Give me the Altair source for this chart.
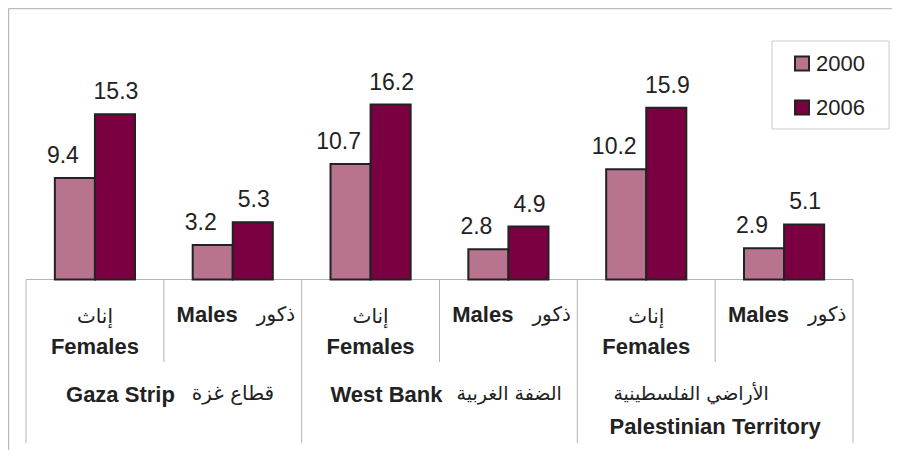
import altair as alt
import pandas as pd

cats = ["GF", "GM", "WF", "WM", "PF", "PM"]
years = ["2000", "2006"]
v2000 = [9.4, 3.2, 10.7, 2.8, 10.2, 2.9]
v2006 = [15.3, 5.3, 16.2, 4.9, 15.9, 5.1]
female_cats = ["GF", "WF", "PF"]
male_cats = ["GM", "WM", "PM"]
female_ar = "إناث"
female_en = "Females"
male_en = "Males"
male_ar = "ذكور"
region_cats = ["GF", "WF"]
region_en = ["Gaza Strip", "West Bank"]
region_ar = ["قطاع غزة", "الضفة الغربية"]
pal_ar = "الأراضي الفلسطينية"
pal_en = "Palestinian Territory"

rows = []
for i, c in enumerate(cats):
    rows.append({"cat": c, "year": "2000", "value": v2000[i]})
    rows.append({"cat": c, "year": "2006", "value": v2006[i]})
df = pd.DataFrame(rows)

W, H = 827, 216
FONT = "Liberation Sans, DejaVu Sans"
AFONT = "DejaVu Sans"
LINE = "#b4b4b4"
xscale = alt.Scale(domain=cats, paddingInner=0, paddingOuter=0)
yscale = alt.Scale(domain=[0, 20])
offscale = alt.Scale(domain=years, paddingInner=0, paddingOuter=0.72)
color = alt.Color(
    "year:N",
    scale=alt.Scale(domain=years, range=["#B8748F", "#7B0042"]),
    legend=alt.Legend(
        title=None, orient="none", legendX=765, legendY=-11,
        symbolType="square", symbolSize=196, symbolStrokeColor="#222",
        symbolStrokeWidth=2, labelFontSize=22, labelFont=FONT,
        labelColor="#222", rowPadding=22, labelOffset=3, padding=0,
    ),
)

one = pd.DataFrame({"k": [0]})

frame_top = alt.Chart(one).mark_rule(color="#bbbbbb", strokeWidth=1.5).encode(
    x=alt.value(-17.5), x2=alt.value(866), y=alt.value(-55)
)
frame_left = alt.Chart(one).mark_rule(color="#bbbbbb", strokeWidth=1.5).encode(
    x=alt.value(-17.5), y=alt.value(-55), y2=alt.value(390)
)
legend_box = alt.Chart(one).mark_rect(fill=None, stroke="#cccccc", strokeWidth=1).encode(
    x=alt.value(746), x2=alt.value(863), y=alt.value(-22.5), y2=alt.value(65.5)
)

bars = alt.Chart(df).mark_bar(stroke="#222222", strokeWidth=2).encode(
    x=alt.X("cat:N", scale=xscale, axis=None, sort=cats),
    xOffset=alt.XOffset("year:N", scale=offscale),
    y=alt.Y("value:Q", scale=yscale, axis=None),
    color=color,
)


def value_labels(year, dx):
    return alt.Chart(df).transform_filter(alt.datum.year == year).mark_text(
        font=FONT, fontSize=23, color="#222", baseline="alphabetic", dy=-15, dx=dx
    ).encode(
        x=alt.X("cat:N", scale=xscale, axis=None, sort=cats),
        xOffset=alt.XOffset("year:N", scale=offscale),
        y=alt.Y("value:Q", scale=yscale, axis=None),
        text=alt.Text("value:Q", format=".1f"),
    )


labels = alt.layer(value_labels("2000", -12), value_labels("2006", 1))

baseline = alt.Chart(one).mark_rule(color=LINE, strokeWidth=1).encode(
    x=alt.value(0), x2=alt.value(W), y=alt.value(H)
)
short_div = alt.Chart(pd.DataFrame({"cat": male_cats})).mark_rule(color=LINE).encode(
    x=alt.X("cat:N", scale=xscale, axis=None, bandPosition=0),
    y=alt.value(H), y2=alt.value(298.5),
)
long_div = alt.Chart(pd.DataFrame({"cat": female_cats})).mark_rule(color=LINE).encode(
    x=alt.X("cat:N", scale=xscale, axis=None, bandPosition=0),
    y=alt.value(H), y2=alt.value(379.5),
)
end_div = alt.Chart(pd.DataFrame({"cat": ["PM"]})).mark_rule(color=LINE).encode(
    x=alt.X("cat:N", scale=xscale, axis=None, bandPosition=1),
    y=alt.value(H), y2=alt.value(379.5),
)


def cat_text(cats_list, texts, ypix, band=0.5, align="center", dx=0,
             bold=True, size=22, font=FONT):
    data = pd.DataFrame({"cat": cats_list, "t": texts})
    return alt.Chart(data).mark_text(
        font=font, fontSize=size, fontWeight="bold" if bold else "normal",
        color="#222", baseline="middle", align=align, dx=dx,
    ).encode(
        x=alt.X("cat:N", scale=xscale, axis=None, bandPosition=band),
        y=alt.value(ypix),
        text=alt.Text("t:N"),
    )


fem_ar_t = cat_text(female_cats, [female_ar] * 3, 253.5, bold=False, size=20, font=AFONT)
fem_en_t = cat_text(female_cats, [female_en] * 3, 283.5)
male_en_t = cat_text(male_cats, [male_en] * 3, 251.5, align="right", dx=5)
male_ar_t = cat_text(male_cats, [male_ar] * 3, 251.5, align="left", dx=24,
                     bold=False, size=20, font=AFONT)
reg_en_t = alt.layer(
    cat_text(region_cats[:1], region_en[:1], 331.5, band=1, align="right", dx=11),
    cat_text(region_cats[1:], region_en[1:], 331.5, band=1, align="right", dx=3),
)
reg_ar_t = alt.layer(
    cat_text(region_cats[:1], region_ar[:1], 330.5, band=1, align="left", dx=28,
             bold=False, size=20, font=AFONT),
    cat_text(region_cats[1:], region_ar[1:], 330.5, band=1, align="left", dx=17,
             bold=False, size=19, font=AFONT),
)
pal_ar_t = cat_text(["PF"], [pal_ar], 330.5, band=1, dx=-24, bold=False, size=19, font=AFONT)
pal_en_t = cat_text(["PF"], [pal_en], 363.5, band=1)

chart = alt.layer(
    frame_top, frame_left, legend_box, baseline, short_div, long_div, end_div,
    bars, labels, fem_ar_t, fem_en_t, male_en_t, male_ar_t, reg_en_t, reg_ar_t,
    pal_ar_t, pal_en_t,
).properties(
    width=W, height=H,
    autosize=alt.AutoSizeParams(type="none"),
    padding={"left": 18, "top": 55.5, "right": 41, "bottom": 170},
).configure_view(stroke=None)

chart.save("out.html", embed_options={"renderer": "svg", "actions": False})
